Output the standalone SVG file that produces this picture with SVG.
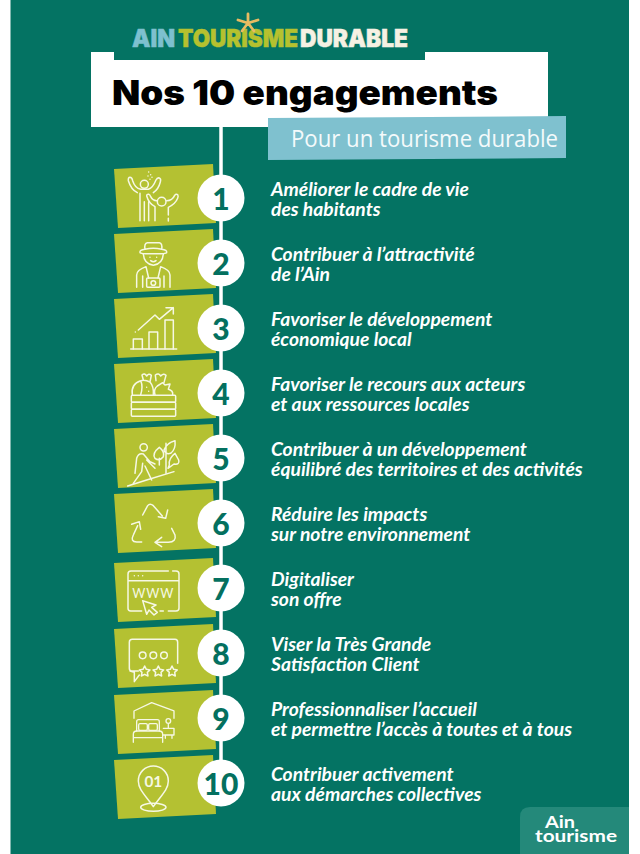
<svg xmlns="http://www.w3.org/2000/svg" width="640" height="854" viewBox="0 0 640 854">
<style>
.panel{fill:#b4c132}
.ic{fill:none;stroke:#f6f8e4;stroke-width:4.5;stroke-linecap:round;stroke-linejoin:round}
.num{fill:#fff}
.n{font-family:"Lato","Liberation Sans",sans-serif;font-weight:900;font-size:30px;fill:#04705f;text-anchor:middle}
.l{font-family:"Lato","Liberation Sans",sans-serif;font-weight:700;font-style:italic;font-size:19.3px;fill:#fff}
</style>
<defs>
<polygon id="p" class="panel" points="114,169 213,164 216,223 118,228"/>
</defs>
<rect width="640" height="854" fill="#fff"/>
<rect x="10.5" y="0" width="618.5" height="854" fill="#047363"/>
<g id="header">
<polygon points="91,52 114,52 114,60 425,60 425,52 548,52 548,127 91,127" fill="#fff"/>
<text x="112" y="105" font-family="Inter,Lato,sans-serif" font-weight="900" font-size="34" textLength="386" lengthAdjust="spacingAndGlyphs" fill="#000">Nos 10 engagements</text>
<polygon points="268,118 566,116 566,158 268,160" fill="#7fc1cf"/>
<text x="291" y="147" font-family="'Open Sans',Lato,sans-serif" font-weight="400" font-size="23" textLength="267" lengthAdjust="spacingAndGlyphs" fill="#f4fafb">Pour un tourisme durable</text>
</g>
<g id="logo-top" font-family="Inter,Lato,sans-serif" font-weight="900" font-size="24">
<text x="132" y="47" fill="#7dc0cf" stroke="#7dc0cf" stroke-width=".5" textLength="43" lengthAdjust="spacingAndGlyphs">AIN</text>
<text x="178" y="47" fill="#b5c12f" stroke="#b5c12f" stroke-width=".5" textLength="120" lengthAdjust="spacingAndGlyphs">TOURISME</text>
<text x="300" y="47" fill="#f5f1e3" stroke="#f5f1e3" stroke-width=".5" textLength="108" lengthAdjust="spacingAndGlyphs">DURABLE</text>
<path d="M248,14V22M238,20L248,23L258,20M248,23L242,31M248,23L254,31" fill="none" stroke="#e8bb62" stroke-width="2.8" stroke-linecap="round"/>
</g>
<g id="connectors"><line x1="221" y1="127" x2="221" y2="770" stroke="#fff" stroke-width="3.5"/></g>
<g id="n1"><use href="#p"/>
<g transform="translate(100,160) scale(.3333)" class="ic"><circle cx="133" cy="73" r="12"/><path d="M112,98C100,92 90,78 85,62Q84,52 90,52Q96,52 98,62C102,75 110,85 122,88H145C155,85 162,75 168,60Q172,52 178,54Q184,56 181,66C178,78 172,90 160,98"/><path d="M120,100V182M133,125V182M146,125V182"/><circle cx="185" cy="125" r="13"/><path d="M165,182V140C155,135 145,125 140,108Q140,102 146,103Q150,104 152,110C156,118 162,122 170,122M200,122C210,122 220,115 224,106Q228,100 233,104Q236,108 233,115C229,125 220,135 205,142V165M205,175V183"/><path d="M146,36h0M152,44h0M144,48h0M156,52h0M150,58h0"/></g>
<circle class="num" cx="221" cy="198" r="23.5"/><text class="n" x="221" y="210">1</text>
<text class="l" x="271" y="196">Améliorer le cadre de vie</text><text class="l" x="271" y="216">des habitants</text></g>
<g id="n2"><use href="#p" y="65"/>
<g transform="translate(100,160) scale(.3333)" class="ic"><path d="M135,268Q132,250 142,248H178Q188,250 185,268M135,268Q118,270 120,278Q124,282 160,281Q196,282 200,278Q202,270 185,268Q160,262 135,268Z"/><path d="M130,282Q132,312 160,316Q188,312 190,282M150,292h0M170,292h0M152,302Q160,308 168,302"/><path d="M110,382V345Q110,330 138,320M210,382V345Q210,330 182,320M128,348V382M192,348V382M138,320L146,354M182,320L174,354"/><rect x="140" y="354" width="40" height="28" rx="3"/><circle cx="160" cy="369" r="7"/></g>
<circle class="num" cx="221" cy="263" r="23.5"/><text class="n" x="221" y="275">2</text>
<text class="l" x="271" y="261">Contribuer à l’attractivité</text><text class="l" x="271" y="281">de l’Ain</text></g>
<g id="n3"><use href="#p" y="130"/>
<g transform="translate(100,160) scale(.3333)" class="ic"><path d="M92,567H230"/><path d="M100,567V537H127V567M147,567V516H173V567M195,567V480H220V567"/><path d="M115,510L165,465L178,478L220,443M198,443H220V462M106,516h0"/></g>
<circle class="num" cx="221" cy="328" r="23.5"/><text class="n" x="221" y="340">3</text>
<text class="l" x="271" y="326">Favoriser le développement</text><text class="l" x="271" y="346">économique local</text></g>
<g id="n4"><use href="#p" y="195"/>
<g transform="translate(100,360) scale(.3333)" class="ic"><rect x="94" y="106" width="133" height="21" rx="3"/><rect x="94" y="127" width="133" height="21" rx="3"/><rect x="94" y="148" width="133" height="21" rx="3"/><path d="M97,104Q92,72 122,62M122,62Q135,58 150,66Q162,80 160,104M122,62Q130,80 122,104M130,60L126,45Q134,38 140,48Q146,38 154,46L150,66M168,62L166,45Q176,38 182,48Q190,38 198,46L192,68M165,104Q160,88 172,78L188,68L195,75L210,72L205,88Q220,92 218,104M140,82h0M146,94h0"/></g>
<circle class="num" cx="221" cy="393" r="23.5"/><text class="n" x="221" y="405">4</text>
<text class="l" x="271" y="391">Favoriser le recours aux acteurs</text><text class="l" x="271" y="411">et aux ressources locales</text></g>
<g id="n5"><use href="#p" y="260"/>
<g transform="translate(100,360) scale(.3333)" class="ic"><circle cx="131" cy="262" r="11"/><path d="M83,378L140,360L222,335"/><path d="M105,340L110,295Q115,278 130,282L150,305L165,312M100,370L125,335L128,310M135,318L155,360M140,300L165,325"/><path d="M198,340V250M178,262Q155,280 165,295Q178,305 190,290Q195,275 178,262ZM178,295V315M192,270Q200,248 225,242Q228,268 212,280Q198,285 192,270ZM204,325L222,312Q240,315 236,300L225,280Q205,295 208,315Z"/></g>
<circle class="num" cx="221" cy="458" r="23.5"/><text class="n" x="221" y="470">5</text>
<text class="l" x="271" y="456">Contribuer à un développement</text><text class="l" x="271" y="476">équilibré des territoires et des activités</text></g>
<g id="n6"><use href="#p" y="325"/>
<g transform="translate(100,360) scale(.3333)" class="ic"><path d="M128,465L143,437Q150,428 160,437L187,468M203,450L197,475L175,470"/><path d="M125,546H110Q90,545 100,525L113,497M95,493L118,485L122,508"/><path d="M215,505L225,525Q230,545 205,547H165M185,532L165,547L185,560"/></g>
<circle class="num" cx="221" cy="523" r="23.5"/><text class="n" x="221" y="535">6</text>
<text class="l" x="271" y="521">Réduire les impacts</text><text class="l" x="271" y="541">sur notre environnement</text></g>
<g id="n7"><use href="#p" y="394"/>
<g transform="translate(100,555) scale(.3333)" class="ic"><path d="M125,168H92Q84,168 84,160V57Q84,48 93,48H205M218,48H228Q237,48 237,57V160Q237,168 228,168H205M180,168H190M84,77H237M103,62h0M115,62h0M128,62h0"/><polygon points="128,137 168,150 155,157 172,172 162,180 147,165 140,178"/><text x="160" y="129" text-anchor="middle" font-family="Lato,sans-serif" font-size="38" font-weight="400" fill="#f6f8e4" stroke="none" letter-spacing="3">WWW</text></g>
<circle class="num" cx="221" cy="588" r="23.5"/><text class="n" x="221" y="600">7</text>
<text class="l" x="271" y="586">Digitaliser</text><text class="l" x="271" y="606">son offre</text></g>
<g id="n8"><use href="#p" y="460"/>
<g transform="translate(100,555) scale(.3333)" class="ic"><path d="M115,348H95Q88,348 88,340V262Q88,253 97,253H225Q233,253 233,262V325M90,348L103,352V380L118,360"/><circle cx="128" cy="301" r="10"/><circle cx="160" cy="301" r="10"/><circle cx="192" cy="301" r="10"/><path d="M134,333L139,343L150,345L142,352L144,363L134,358L124,363L126,352L118,345L129,343Z"/><path d="M175,333L180,343L191,345L183,352L185,363L175,358L165,363L167,352L159,345L170,343Z"/><path d="M216,333L221,343L232,345L224,352L226,363L216,358L206,363L208,352L200,345L211,343Z"/></g>
<circle class="num" cx="221" cy="653" r="23.5"/><text class="n" x="221" y="665">8</text>
<text class="l" x="271" y="651">Viser la Très Grande</text><text class="l" x="271" y="671">Satisfaction Client</text></g>
<g id="n9"><use href="#p" y="526"/>
<g transform="translate(100,685) scale(.3333)" class="ic" style="stroke-width:4"><path d="M102,100V78L155,53L222,78V100"/><path d="M110,138V110Q110,104 116,104H172Q178,104 178,110V138"/><rect x="116" y="116" width="26" height="20" rx="4"/><rect x="146" y="116" width="26" height="20" rx="4"/><path d="M100,172V148Q100,138 110,138H178Q188,138 188,148V172M100,158H188"/><path d="M190,130H222V150H190M196,150V160M216,150V160M205,130V118"/><circle cx="205" cy="108" r="7"/></g>
<circle class="num" cx="221" cy="718" r="23.5"/><text class="n" x="221" y="730">9</text>
<text class="l" x="271" y="716">Professionnaliser l’accueil</text><text class="l" x="271" y="736">et permettre l’accès à toutes et à tous</text></g>
<g id="n10"><use href="#p" y="591"/>
<g transform="translate(100,685) scale(.3333)" class="ic"><path d="M160,365C140,335 115,315 115,288A45,45 0 0 1 205,288C205,315 180,335 160,365Z"/><ellipse cx="160" cy="367" rx="38" ry="12"/><text x="160" y="305" text-anchor="middle" font-family="Lato,sans-serif" font-size="46" font-weight="700" fill="#f6f8e4" stroke="none">01</text></g>
<circle class="num" cx="221" cy="783" r="23.5"/><text class="n" x="221" y="795">10</text>
<text class="l" x="271" y="781">Contribuer activement</text><text class="l" x="271" y="801">aux démarches collectives</text></g>
<g id="logo-bottom"><path d="M530,807H629V854H520V817Q520,807 530,807Z" fill="#24897a"/>
<text x="545" y="828" font-family="Lato,sans-serif" font-weight="700" font-size="17" fill="#fff" textLength="30" lengthAdjust="spacingAndGlyphs">Ain</text>
<text x="535" y="842" font-family="Lato,sans-serif" font-weight="700" font-size="17" fill="#fff" textLength="82" lengthAdjust="spacingAndGlyphs">tourisme</text></g>
</svg>
